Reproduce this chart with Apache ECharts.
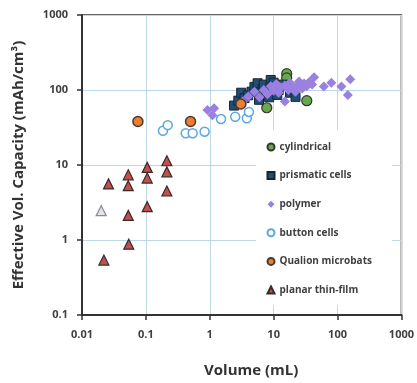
<!DOCTYPE html>
<html>
<head>
<meta charset="utf-8">
<script src="https://cdn.jsdelivr.net/npm/echarts@6/dist/echarts.min.js"></script>
<style>
  html, body { margin: 0; padding: 0; background: #fff; }
  #chart { width: 417px; height: 383px; }
</style>
</head>
<body>
<div id="chart"></div>
<script>
// [volume mL, capacity mAh/cm3]
var cylindrical = [[16, 165], [16, 145], [33, 72], [7.8, 58]];
var prismatic = [[2.4, 62], [2.8, 72], [3.1, 92], [3.5, 78], [4, 85], [4.5, 95], [5, 110], [5.6, 123],
  [5.9, 74], [6, 88], [6.7, 102], [7, 118], [8, 95], [8.5, 80], [9, 136], [9, 108], [10, 125],
  [11.4, 86], [12, 100], [14, 118], [18, 92], [22, 81]];
var polymer = [[0.92, 54], [1.1, 46], [1.17, 57], [3.3, 70], [4, 82], [5, 95], [6, 80], [7, 100],
  [8, 88], [9, 112], [10, 98], [11, 120], [12, 92], [13, 108], [15, 70], [15, 115], [17, 100],
  [18, 125], [20, 110], [22, 95], [24, 118], [25, 130], [28, 105], [30, 122], [33, 112], [36, 128],
  [40, 118], [43, 148], [61, 111], [80, 125], [115, 111], [145, 86], [158, 139]];
var buttonCells = [[0.185, 28.6], [0.22, 34], [0.42, 26.5], [0.54, 26.5], [0.83, 27.8],
  [1.5, 41], [2.5, 44], [3.8, 42], [4.1, 51]];
var qualion = [[0.075, 38], [0.5, 38], [3.07, 65]];
var planar = [[0.026, 5.6], [0.053, 7.4], [0.053, 5.3], [0.105, 9.3], [0.105, 6.7], [0.213, 11.4],
  [0.213, 8.1], [0.213, 4.5], [0.053, 2.13], [0.105, 2.78], [0.054, 0.88], [0.022, 0.54]];
var planarFaint = [[0.020, 2.46]];

var legendNames = ['cylindrical', 'prismatic cells', 'polymer', 'button cells', 'Qualion microbats', 'planar thin-film'];

var font = '"Open Sans", "Liberation Sans", sans-serif';

function tickText(v) {
  return String(+Number(v).toPrecision(6));
}

var chart = echarts.init(document.getElementById('chart'));
var option = {
  animation: false,
  grid: {
    left: 82, right: 14, top: 15, bottom: 68,
    show: true, borderColor: '#333', borderWidth: 1.5
  },
  legend: {
    data: legendNames,
    orient: 'vertical',
    left: 256, top: 130,
    padding: [12, 20, 10, 10.5],
    backgroundColor: '#fff',
    itemWidth: 7, itemHeight: 7, itemGap: 18.6,
    textStyle: { fontSize: 10, fontWeight: 'bold', color: '#404040', fontFamily: font, lineHeight: 10 }
  },
  xAxis: {
    type: 'log', logBase: 10, min: 0.01, max: 1000,
    name: 'Volume (mL)', nameLocation: 'middle', nameGap: 48,
    nameTextStyle: { fontSize: 15, fontWeight: 'bold', color: '#333', fontFamily: font, padding: [0, 0, 0, 19] },
    axisLine: { show: true, lineStyle: { color: '#333', width: 2 } },
    axisTick: { show: true, length: 5, lineStyle: { color: '#333', width: 1.5 } },
    axisLabel: { fontSize: 11, fontWeight: 'bold', color: '#404040', fontFamily: font, margin: 14, formatter: tickText },
    splitLine: { show: true, lineStyle: { color: '#bcd9ea', width: 1 } }
  },
  yAxis: {
    type: 'log', logBase: 10, min: 0.1, max: 1000,
    name: 'Effective Vol. Capacity (mAh/cm³)', nameLocation: 'middle', nameGap: 56,
    nameTextStyle: { fontSize: 15, fontWeight: 'bold', color: '#333', fontFamily: font },
    axisLine: { show: true, lineStyle: { color: '#333', width: 2 } },
    axisTick: { show: true, length: 5, lineStyle: { color: '#333', width: 1.5 } },
    axisLabel: { fontSize: 11, fontWeight: 'bold', color: '#404040', fontFamily: font, margin: 14, formatter: tickText },
    splitLine: { show: true, lineStyle: { color: '#bcd9ea', width: 1 } }
  },
  series: [
    {
      name: 'cylindrical', type: 'scatter', data: cylindrical,
      symbol: 'circle', symbolSize: 10,
      itemStyle: { color: '#6aa84f', borderColor: '#2f3b2a', borderWidth: 1.2, opacity: 1 }
    },
    {
      name: 'prismatic cells', type: 'scatter', data: prismatic,
      symbol: 'rect', symbolSize: 9,
      itemStyle: { color: '#1f4e79', borderColor: '#1a2430', borderWidth: 1, opacity: 1 }
    },
    {
      name: 'polymer', type: 'scatter', data: polymer,
      symbol: 'diamond', symbolSize: 10,
      itemStyle: { color: '#9a80e0', opacity: 1 }
    },
    {
      name: 'button cells', type: 'scatter', data: buttonCells,
      symbol: 'circle', symbolSize: 9,
      itemStyle: { color: '#fff', borderColor: '#5fa8e0', borderWidth: 1.5, opacity: 1 }
    },
    {
      name: 'Qualion microbats', type: 'scatter', data: qualion,
      symbol: 'circle', symbolSize: 10,
      itemStyle: { color: '#ed7d31', borderColor: '#4a3a30', borderWidth: 1.5, opacity: 1 }
    },
    {
      name: 'planar thin-film', type: 'scatter', data: planar,
      symbol: 'triangle', symbolSize: 10,
      itemStyle: { color: '#c0504d', borderColor: '#3a2a2a', borderWidth: 1.2, opacity: 1 }
    },
    {
      name: 'planar thin-film (faint)', type: 'scatter', data: planarFaint,
      symbol: 'triangle', symbolSize: 10,
      itemStyle: { color: '#f0dede', borderColor: '#7a8fa8', borderWidth: 1.2, opacity: 1 }
    }
  ]
};
chart.setOption(option);
</script>
</body>
</html>
